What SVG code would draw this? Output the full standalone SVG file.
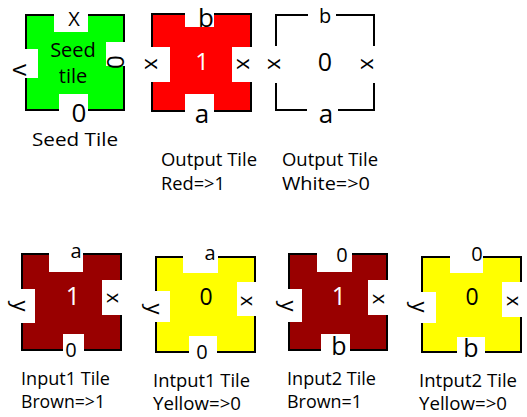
<svg xmlns="http://www.w3.org/2000/svg" width="527" height="417" viewBox="0 0 527 417">
<style>
text{font-family:"Open Sans","Liberation Sans",sans-serif;fill:#000;text-anchor:middle}
.frame{stroke:#000;stroke-width:2}
.notch{fill:#fff;stroke:none}
.cap{font-size:18px;text-anchor:start}
.lbl{font-size:24px}
.sm{font-size:20px}
.w{fill:#fff}
</style>
<rect width="527" height="417" fill="#fff"/>

<g id="seed-tile">
<rect class="frame" x="26" y="15" width="98" height="95" fill="#00ff00"/>
<rect class="notch" x="54" y="13" width="34" height="19"/>
<rect class="notch" x="24" y="49" width="14" height="29"/>
<rect class="notch" x="106" y="42" width="20" height="24"/>
<rect class="notch" x="59" y="94" width="29" height="18"/>
<text x="74" y="26" style="font-size:20px">X</text>
<text x="73" y="57" style="font-size:20px">Seed</text>
<text x="73" y="83" style="font-size:20px">tile</text>
<g transform="translate(115,62) rotate(90)"><text y="8.5" class="lbl">0</text></g>
<g transform="translate(19,70) rotate(90)"><text y="6.5" class="lbl">v</text></g>
<text x="79" y="122" style="font-size:26px">0</text>
<text class="cap" x="32" y="146" textLength="86" lengthAdjust="spacingAndGlyphs">Seed Tile</text>
</g>

<g id="output-tile-red">
<rect class="frame" x="152" y="14" width="99" height="97" fill="#ff0000"/>
<rect class="notch" x="185" y="12" width="29" height="15"/>
<rect class="notch" x="150" y="47" width="20" height="35"/>
<rect class="notch" x="232" y="47" width="21" height="35"/>
<rect class="notch" x="185" y="94" width="29" height="19"/>
<text x="206" y="27" style="font-size:26px">b</text>
<text x="202" y="70" class="lbl w">1</text>
<g transform="translate(151,64) rotate(90)"><text y="6" style="font-size:22px">x</text></g>
<g transform="translate(243,64) rotate(90)"><text y="6" style="font-size:22px">x</text></g>
<text x="202" y="123" style="font-size:26px">a</text>
<text class="cap" x="161" y="166" textLength="96" lengthAdjust="spacingAndGlyphs">Output Tile</text>
<text class="cap" x="161" y="190" textLength="64" lengthAdjust="spacingAndGlyphs">Red=&gt;1</text>
</g>

<g id="output-tile-white">
<rect class="frame" x="276" y="15" width="98" height="95" fill="none"/>
<rect class="notch" x="308" y="12" width="28" height="6"/>
<rect class="notch" x="273" y="46" width="6" height="37"/>
<rect class="notch" x="371" y="46" width="6" height="37"/>
<rect class="notch" x="307" y="107" width="31" height="6"/>
<text x="325" y="23" style="font-size:20px">b</text>
<text x="325" y="71" style="font-size:25px">0</text>
<g transform="translate(274,64) rotate(90)"><text y="6" style="font-size:22px">x</text></g>
<g transform="translate(367,64) rotate(90)"><text y="6" style="font-size:22px">x</text></g>
<text x="326" y="123" style="font-size:26px">a</text>
<text class="cap" x="282" y="166" textLength="96" lengthAdjust="spacingAndGlyphs">Output Tile</text>
<text class="cap" x="282" y="190" textLength="88" lengthAdjust="spacingAndGlyphs">White=&gt;0</text>
</g>

<g id="input1-tile-brown">
<rect class="frame" x="22" y="254" width="99" height="96" fill="#990000"/>
<rect class="notch" x="49" y="252" width="34" height="20"/>
<rect class="notch" x="20" y="289" width="15" height="34"/>
<rect class="notch" x="102" y="280" width="21" height="35"/>
<rect class="notch" x="63" y="334" width="21" height="18"/>
<text x="76" y="258" class="sm">a</text>
<text x="73" y="305" style="font-size:25px" class="w">1</text>
<g transform="translate(112,298) rotate(90)"><text y="5.5" class="sm">x</text></g>
<g transform="translate(16,306) rotate(90)"><text y="3.5" style="font-size:22px">y</text></g>
<text x="71" y="357" class="sm">0</text>
<text class="cap" x="21" y="385" textLength="89" lengthAdjust="spacingAndGlyphs">Input1 Tile</text>
<text class="cap" x="21" y="408" textLength="84" lengthAdjust="spacingAndGlyphs">Brown=&gt;1</text>
</g>

<g id="input1-tile-yellow">
<rect class="frame" x="156" y="257" width="99" height="95" fill="#ffff00"/>
<rect class="notch" x="183" y="255" width="35" height="18"/>
<rect class="notch" x="154" y="291" width="16" height="31"/>
<rect class="notch" x="237" y="282" width="20" height="34"/>
<rect class="notch" x="189" y="336" width="28" height="18"/>
<text x="210" y="260" class="sm">a</text>
<text x="206" y="305" style="font-size:23px">0</text>
<g transform="translate(246,301) rotate(90)"><text y="5.5" class="sm">x</text></g>
<g transform="translate(150,309) rotate(90)"><text y="3.5" style="font-size:22px">y</text></g>
<text x="202" y="359" class="sm">0</text>
<text class="cap" x="153" y="387" textLength="97" lengthAdjust="spacingAndGlyphs">Intput1 Tile</text>
<text class="cap" x="153" y="410" textLength="88" lengthAdjust="spacingAndGlyphs">Yellow=&gt;0</text>
</g>

<g id="input2-tile-brown">
<rect class="frame" x="289" y="254" width="98" height="96" fill="#990000"/>
<rect class="notch" x="317" y="252" width="35" height="20"/>
<rect class="notch" x="287" y="289" width="15" height="33"/>
<rect class="notch" x="368" y="280" width="21" height="35"/>
<rect class="notch" x="321" y="334" width="29" height="18"/>
<text x="342" y="262" class="sm">0</text>
<text x="339" y="305" style="font-size:25px" class="w">1</text>
<g transform="translate(378,299) rotate(90)"><text y="5.5" class="sm">x</text></g>
<g transform="translate(284,306) rotate(90)"><text y="3.5" style="font-size:22px">y</text></g>
<text x="339" y="355" style="font-size:25px">b</text>
<text class="cap" x="287" y="385" textLength="89" lengthAdjust="spacingAndGlyphs">Input2 Tile</text>
<text class="cap" x="287" y="408" textLength="75" lengthAdjust="spacingAndGlyphs">Brown=1</text>
</g>

<g id="input2-tile-yellow">
<rect class="frame" x="422" y="257" width="99" height="95" fill="#ffff00"/>
<rect class="notch" x="450" y="255" width="33" height="18"/>
<rect class="notch" x="420" y="292" width="16" height="31"/>
<rect class="notch" x="502" y="282" width="21" height="35"/>
<rect class="notch" x="457" y="337" width="28" height="17"/>
<text x="477" y="261" class="sm">0</text>
<text x="472" y="305" style="font-size:23px">0</text>
<g transform="translate(512,301) rotate(90)"><text y="5.5" class="sm">x</text></g>
<g transform="translate(415,307) rotate(90)"><text y="3.5" style="font-size:22px">y</text></g>
<text x="471" y="357" style="font-size:25px">b</text>
<text class="cap" x="419" y="387" textLength="98" lengthAdjust="spacingAndGlyphs">Intput2 Tile</text>
<text class="cap" x="419" y="410" textLength="88" lengthAdjust="spacingAndGlyphs">Yellow=&gt;0</text>
</g>
</svg>
